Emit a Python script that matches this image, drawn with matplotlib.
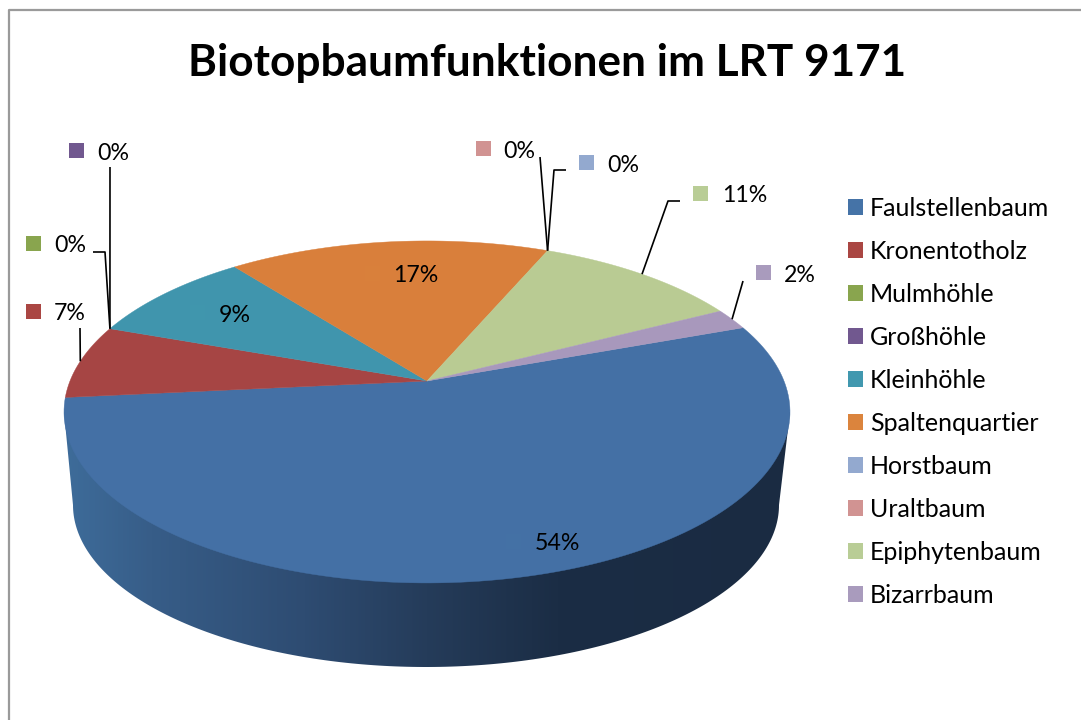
import numpy as np
import matplotlib
matplotlib.use("Agg")
import matplotlib.pyplot as plt
from matplotlib.patches import Patch, Polygon, Rectangle
from matplotlib.colors import LinearSegmentedColormap

categories = ["Faulstellenbaum", "Kronentotholz", "Mulmhöhle", "Großhöhle", "Kleinhöhle",
              "Spaltenquartier", "Horstbaum", "Uraltbaum", "Epiphytenbaum", "Bizarrbaum"]
values = [54, 7, 0, 0, 9, 17, 0, 0, 11, 2]
key_colors = ["#4573A7", "#AA4643", "#89A54E", "#71588F", "#4198AF",
              "#DB843D", "#93A9CF", "#D19392", "#B9CD96", "#A99BBD"]
face_colors = ["#4470A5", "#A64544", "#89A54E", "#71588F", "#4095AD",
               "#D97F3B", "#93A9CF", "#D19392", "#B9CB93", "#A898BC"]
title = "Biotopbaumfunktionen im LRT 9171"

plt.rcParams["font.family"] = ["Lato", "DejaVu Sans"]
W, H = 1081, 720
fig = plt.figure(figsize=(W / 100, H / 100), dpi=100, facecolor="white")
ax = fig.add_axes([0, 0, 1, 1])
ax.set_axis_off()

# perspective disc: apex, projected radii and foreshortening
APEX_X, APEX_Y, A, B, K = 427, 381, 357, 165.4, 0.181
START = 20.0


def rim(deg):
    t = np.radians(np.asarray(deg, dtype=float))
    x, y = np.cos(t), np.sin(t)
    w = 1 + K * y
    return APEX_X + A * x / w, APEX_Y - B * y / w


# side wall
th = np.linspace(0, np.pi, 200)
wall_x = [64, 790] + list(426 + 353 * np.cos(th)) + [64]
wall_y = [412, 412] + list(505 + 162 * np.sin(th)) + [412]
wall = Polygon(np.column_stack([wall_x, wall_y]), closed=True, fc="none", ec="none")
ax.add_patch(wall)
cmap = LinearSegmentedColormap.from_list("wall", [
    (0.00, "#3E6C9A"), (0.12, "#375D88"), (0.33, "#2E4C72"),
    (0.50, "#253C5A"), (0.68, "#1B2D45"), (1.00, "#1A2B42")])
img = ax.imshow(np.linspace(0, 1, 512)[None, :], extent=(64, 790, 670, 405),
                cmap=cmap, aspect="auto", interpolation="bilinear", zorder=1)
img.set_clip_path(wall)

# top face
fracs = np.array(values, dtype=float) / sum(values)
edges = START - 360 * np.concatenate([[0], np.cumsum(fracs)])
for i, v in enumerate(values):
    if v == 0:
        continue
    t = np.linspace(edges[i], edges[i + 1], 150)
    xs, ys = rim(t)
    ax.fill(np.r_[APEX_X, xs], np.r_[APEX_Y, ys], fc=face_colors[i], ec=face_colors[i],
            lw=0.3, zorder=2)

# data labels: key left edge, text left edge, text centre y
label_pos = {0: (506, 535, 542), 1: (26, 54, 312), 2: (26, 54, 244), 3: (69, 97, 151),
             4: (190, 219, 313), 5: (365, 393, 274), 6: (579, 607, 163), 7: (476, 503, 149),
             8: (693, 722, 194), 9: (756, 784, 273)}
for i, (kx, tx, ty) in label_pos.items():
    ax.add_patch(Rectangle((kx, ty - 8), 15, 15, fc=key_colors[i], ec="none", zorder=3,
                           alpha=0.35 if i in (0, 4, 5) else 1))
    ax.text(tx, ty + 2, f"{values[i]}%", fontsize=16.7, color="black", va="center", ha="left", zorder=4)

# leader lines: label end, optional elbow, rim point of the slice
mids = (edges[:-1] + edges[1:]) / 2
leaders = {1: [(80, 328)], 2: [(93, 252), (105, 252)], 3: [(110, 167)],
           6: [(566, 170), (554, 170)], 7: [(540, 157)],
           8: [(680, 201), (668, 201)], 9: [(743, 281)]}
for i, pts in leaders.items():
    rx, ry = rim(mids[i])
    xs = [p[0] for p in pts] + [rx]
    ys = [p[1] for p in pts] + [ry]
    ax.plot(xs, ys, color="black", lw=1.2, zorder=3, solid_capstyle="butt")

# chart border
ax.plot([9, 9, W], [H, 10, 10], color="#9A9A9A", lw=1.6, zorder=5)

ax.text(547, 63, title, fontsize=31.8, fontweight="bold", ha="center", va="center", color="black")

handles = [Patch(fc=c, ec="none", label=n) for c, n in zip(key_colors, categories)]
ax.legend(handles=handles, loc="upper left", bbox_to_anchor=(848 / W, 1 - 197 / H),
          frameon=False, fontsize=18, handlelength=0.6, handleheight=0.6,
          handletextpad=0.28, labelspacing=0.8, borderpad=0, borderaxespad=0)

ax.set_xlim(0, W)
ax.set_ylim(H, 0)
fig.savefig("out.png", dpi=100, facecolor="white")
